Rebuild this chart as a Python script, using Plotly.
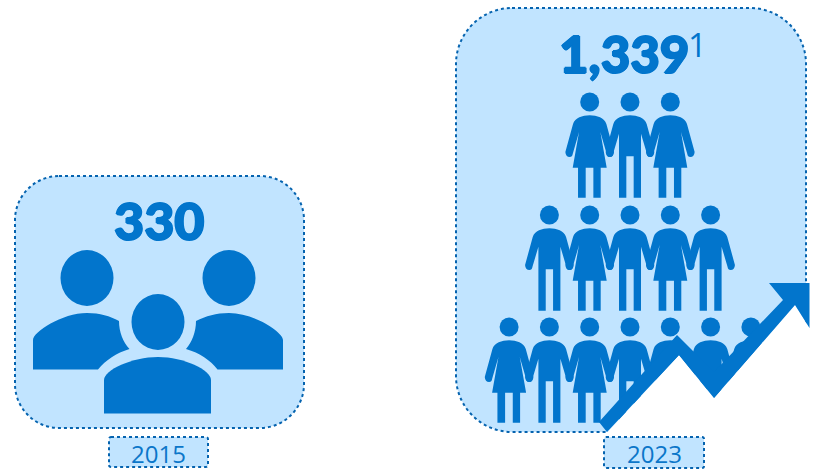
import plotly.graph_objects as go

years = ["2015", "2023"]
values = ["330", "1,339"]
footnote = "1"
# Pictogram rows of the 2023 panel: F = woman, M = man
rows_2023 = [list("FMF"), list("MFMFM"), list("FMFMFMF")]

FILL = "#C1E4FF"
BLUE = "#0275CC"
EDGE = "#0563AF"

shapes = []

def add_path(d, fill, line=None, width=0, dash=None):
    ln = dict(width=width)
    if line:
        ln["color"] = line
    if dash:
        ln["dash"] = dash
    shapes.append(dict(type="path", xref="x", yref="y", path=d, fillcolor=fill, line=ln, layer="above"))

def round_rect(x0, y0, x1, y1, r):
    k = r * 0.45
    return (f"M{x0+r},{y0} L{x1-r},{y0} C{x1-k},{y0} {x1},{y0+k} {x1},{y0+r} "
            f"L{x1},{y1-r} C{x1},{y1-k} {x1-k},{y1} {x1-r},{y1} "
            f"L{x0+r},{y1} C{x0+k},{y1} {x0},{y1-k} {x0},{y1-r} "
            f"L{x0},{y0+r} C{x0},{y0+k} {x0+k},{y0} {x0+r},{y0} Z")

def poly(pts):
    return "M" + " L".join(f"{x},{y}" for x, y in pts) + " Z"

def ellipse(cx, cy, rx, ry):
    shapes.append(dict(type="circle", xref="x", yref="y", x0=cx-rx, x1=cx+rx, y0=cy-ry, y1=cy+ry,
                       fillcolor=BLUE, line=dict(width=0), layer="above"))

def person(cx, cy, kind):
    ellipse(cx, cy, 9.5, 9.5)
    p = lambda x, y: f"{cx + x/3:.2f},{cy + y/3:.2f}"
    d = f"M{p(0,40)} C{p(22,40)} {p(44,48)} {p(50,66)} L{p(73,150)} Q{p(72,165)} {p(60,165)} Q{p(52,165)} {p(51,156)} "
    if kind == "M":
        d += f"L{p(33,95)} L{p(33,287)} L{p(11,287)} L{p(11,163)} L{p(-11,163)} L{p(-11,287)} L{p(-33,287)} L{p(-33,95)} "
    else:
        d += (f"L{p(32,90)} L{p(51,197)} L{p(33,197)} L{p(33,287)} L{p(11,287)} L{p(11,197)} L{p(-12,197)} "
              f"L{p(-12,287)} L{p(-35,287)} L{p(-35,197)} L{p(-51,197)} L{p(-32,90)} ")
    d += f"L{p(-51,156)} Q{p(-52,165)} {p(-60,165)} Q{p(-72,165)} {p(-73,150)} L{p(-50,66)} C{p(-44,48)} {p(-22,40)} {p(0,40)} Z"
    add_path(d, BLUE)

# 2015 panel
add_path(round_rect(15, 176, 304, 428, 44), FILL, EDGE, 2, "dot")
ellipse(87, 278, 26.5, 28)
ellipse(229, 278, 26.5, 28)
ellipse(158, 322, 26.5, 28)
add_path("M33,369.5 L33,340 C33,332 62,313 87,313 C100,313 110,316 119,321 C119,332 123,342 129.5,349 "
         "C116,353 106,360 98,369.5 Z", BLUE)
add_path("M283,369.5 L283,340 C283,332 254,313 229,313 C216,313 206,316 196,321 C196,332 192,342 186,349 "
         "C200,353 210,360 217.5,369.5 Z", BLUE)
add_path("M104,413.5 L104,380 C104,370 132,357 158,357 C184,357 211,370 211,380 L211,413.5 Z", BLUE)

# 2023 panel
add_path(round_rect(456, 8, 806, 432, 56), FILL, EDGE, 2, "dot")
row_y = [102, 215, 327]
for row, y in zip(rows_2023, row_y):
    n = len(row)
    for i, kind in enumerate(row):
        person(630 + (i - (n - 1) / 2) * 40.3, y, kind)

# white ground under the arrow, then the arrow
add_path(poly([(607, 432.5), (679, 355), (714, 398), (795, 305), (809.5, 328), (820, 328), (820, 436), (607, 436)]), "#FFFFFF")
add_path(poly([(607, 432), (599, 422), (677, 335), (714, 372), (783, 300), (769, 283), (809.5, 283), (809.5, 328),
               (795, 305), (714, 398), (679, 355)]), BLUE)

# year boxes
add_path(round_rect(109, 437, 208, 467, 2), FILL, EDGE, 2, "dot")
add_path(round_rect(604, 437, 704, 468, 2), FILL, EDGE, 2, "dot")

HEAVY = f"1px 0 0 {BLUE}, -1px 0 0 {BLUE}, 0 0.6px 0 {BLUE}, 0 -0.6px 0 {BLUE}"

def label(x, y, text, size, family, color=BLUE, weight="normal", shadow="none"):
    return dict(x=x, y=y, xref="x", yref="y", text=text, showarrow=False, xanchor="center", yanchor="middle",
                font=dict(size=size, family=family, color=color, weight=weight, shadow=shadow))

annotations = [
    label(158.5, 220, values[0], 52, "Lato", weight=900, shadow=HEAVY),
    label(624, 53, values[1], 51, "Lato", weight=900, shadow=HEAVY),
    label(697, 44, footnote, 33, "Open Sans"),
    label(158.5, 453, years[0], 24, "Open Sans", color="#0B76C9"),
    label(654, 453, years[1], 24, "Open Sans", color="#0B76C9"),
]

fig = go.Figure()
fig.add_trace(go.Scatter(x=[0, 820], y=[0, 469], mode="markers", marker=dict(opacity=0), hoverinfo="skip", showlegend=False))
fig.update_layout(width=820, height=469, margin=dict(l=0, r=0, t=0, b=0), paper_bgcolor="white", plot_bgcolor="white",
                  xaxis=dict(range=[0, 820], visible=False, fixedrange=True),
                  yaxis=dict(range=[469, 0], visible=False, fixedrange=True),
                  shapes=shapes, annotations=annotations, showlegend=False)
fig.write_html("out.html", config=dict(displayModeBar=False),
               post_script="document.body.style.margin='0';document.documentElement.style.overflow='hidden';")
